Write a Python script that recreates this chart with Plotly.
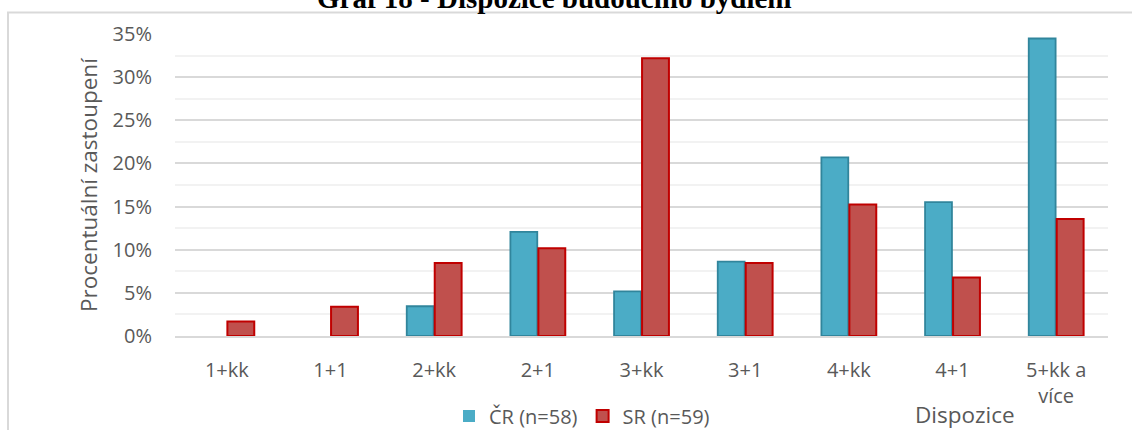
import plotly.graph_objects as go

# Layout types of the future home (share of respondents, %)
categories = ["1+kk", "1+1", "2+kk", "2+1", "3+kk", "3+1", "4+kk", "4+1", "5+kk a<br>více"]
cr_values = [0.0, 0.0, 3.45, 12.07, 5.17, 8.62, 20.69, 15.52, 34.48]
sr_values = [1.69, 3.39, 8.47, 10.17, 32.20, 8.47, 15.25, 6.78, 13.56]
series_names = ["ČR (n=58)", "SR (n=59)"]
y_ticks = [0, 5, 10, 15, 20, 25, 30, 35]

W, H = 1132, 430
L, R, T, B = 175, 24, 34, 94
plot_w = W - L - R
plot_h = H - T - B


def px_x(px):
    return (px - L) / plot_w


def px_y(py):
    return (H - B - py) / plot_h


TEXT = "#595959"
FONT = "Open Sans"
TICK_SIZE = 20
TITLE_SIZE = 22.5


def outline_widths(values, width):
    # no outline on empty bars, so they do not leave a stroke on the axis
    return [width if v > 0 else 0 for v in values]


fig = go.Figure()
fig.add_trace(go.Bar(
    x=categories, y=cr_values, name=series_names[0],
    marker=dict(color="#4BACC6", line=dict(color="#31859C", width=outline_widths(cr_values, 1.8))),
))
fig.add_trace(go.Bar(
    x=categories, y=sr_values, name=series_names[1],
    marker=dict(color="#C0504D", line=dict(color="#C00000", width=outline_widths(sr_values, 2))),
))

fig.update_layout(
    width=W, height=H,
    margin=dict(l=L, r=R, t=T, b=B, autoexpand=False),
    paper_bgcolor="white", plot_bgcolor="white",
    barmode="group", bargap=0.46, bargroupgap=0.04,
    font=dict(family=FONT, size=TICK_SIZE, color=TEXT),
    showlegend=True,
    legend=dict(
        orientation="h", x=px_x(449), xanchor="left",
        y=px_y(416), yanchor="middle",
        font=dict(family=FONT, size=TICK_SIZE, color=TEXT),
        bgcolor="rgba(0,0,0,0)", itemclick=False, itemdoubleclick=False,
    ),
    hovermode=False,
)

fig.update_xaxes(
    type="category", showgrid=False, showline=True, linecolor="#D9D9D9", linewidth=2,
    ticks="", ticklabelstandoff=15, tickfont=dict(family=FONT, size=TICK_SIZE, color=TEXT),
    automargin=False, fixedrange=True,
)
fig.update_yaxes(
    range=[0, 35], tickvals=y_ticks, ticktext=[f"{v}%" for v in y_ticks],
    showgrid=True, gridcolor="#D9D9D9", gridwidth=1.5,
    minor=dict(dtick=2.5, showgrid=True, gridcolor="#F2F2F2", gridwidth=1.5),
    zeroline=False, showline=False, ticks="", ticklabelstandoff=22,
    tickfont=dict(family=FONT, size=TICK_SIZE, color=TEXT),
    automargin=False, fixedrange=True,
)

# Chart frame (extends past the visible page)
fig.add_shape(
    type="rect", xref="paper", yref="paper",
    x0=px_x(8), x1=px_x(1200), y0=px_y(500), y1=px_y(12.5),
    line=dict(color="#D9D9D9", width=2), fillcolor="rgba(0,0,0,0)", layer="below",
)

# Axis titles
fig.add_annotation(
    text="Procentuální zastoupení", xref="paper", yref="paper",
    x=px_x(88), y=px_y(185), xanchor="center", yanchor="middle",
    textangle=-90, showarrow=False, font=dict(family=FONT, size=TITLE_SIZE, color=TEXT),
)
fig.add_annotation(
    text="Dispozice", xref="paper", yref="paper",
    x=px_x(965), y=px_y(414), xanchor="center", yanchor="middle",
    showarrow=False, font=dict(family=FONT, size=TITLE_SIZE, color=TEXT),
)

# Document caption above the chart frame
fig.add_annotation(
    text="<b>Graf 18 - Dispozice budoucího bydlení</b>", xref="paper", yref="paper",
    x=px_x(554), y=px_y(16), xanchor="center", yanchor="bottom",
    showarrow=False, font=dict(family="Liberation Serif", size=29, color="black"),
)

fig.write_html("out.html")
